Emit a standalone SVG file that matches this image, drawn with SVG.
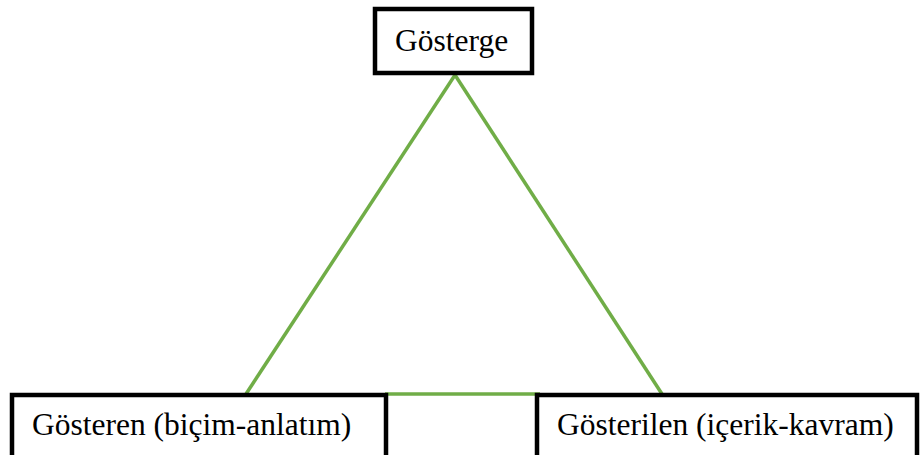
<svg xmlns="http://www.w3.org/2000/svg" width="920" height="455" viewBox="0 0 920 455">
<style>
.box{fill:#fff;stroke:#000;stroke-width:4.5}
.lbl{font-family:"Liberation Serif","Times New Roman",serif;font-size:31.5px;fill:#000}
.edge{stroke:#70AD47;stroke-width:3.5;fill:none}
</style>
<rect width="920" height="455" fill="#fff"/>
<g id="connectors">
<line class="edge" x1="455" y1="75" x2="246" y2="394"/>
<line class="edge" x1="455" y1="75" x2="662" y2="394"/>
<line class="edge" x1="385" y1="394" x2="540" y2="394"/>
</g>
<g id="node-gosterge">
<rect class="box" x="375" y="9" width="157" height="64"/>
<text class="lbl" x="395" y="51">Gösterge</text>
</g>
<g id="node-gosteren">
<rect class="box" x="12" y="395" width="374" height="80"/>
<text class="lbl" x="32" y="435">Gösteren (biçim-anlatım)</text>
</g>
<g id="node-gosterilen">
<rect class="box" x="537" y="395" width="380" height="80"/>
<text class="lbl" x="557" y="435">Gösterilen (içerik-kavram)</text>
</g>
</svg>
